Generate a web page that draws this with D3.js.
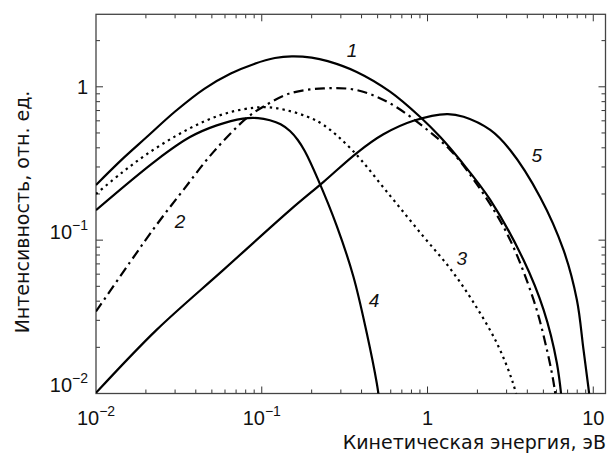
<!DOCTYPE html>
<html>
<head>
<meta charset="utf-8">
<script src="https://cdn.jsdelivr.net/npm/d3@7"></script>
<style>
  body { margin: 0; background: #fff; }
  svg { display: block; }
  text { fill: #111; }
</style>
</head>
<body>
<svg class="chart" width="608" height="457"></svg>
<script>
// energies (eV) and intensities, one pair per curve
let e1 = [0.01, 0.0143, 0.02, 0.03, 0.045, 0.065, 0.09, 0.12, 0.152, 0.2, 0.25, 0.374, 0.594, 0.90, 1.19, 1.57, 2.39, 3.79, 5.01, 6.03, 6.6];
let i1 = [0.229, 0.335, 0.465, 0.69, 0.97, 1.22, 1.41, 1.54, 1.58, 1.55, 1.47, 1.25, 0.93, 0.638, 0.472, 0.333, 0.183, 0.0744, 0.0352, 0.0158, 0.007];

let e2 = [0.01, 0.016, 0.0232, 0.0336, 0.051, 0.081, 0.102, 0.148, 0.236, 0.374, 0.594, 0.944, 1.37, 1.89, 3.01, 4.36, 5.25, 5.83, 6.1];
let i2 = [0.0343, 0.0715, 0.126, 0.212, 0.375, 0.625, 0.741, 0.906, 0.976, 0.952, 0.78, 0.549, 0.387, 0.25, 0.111, 0.0409, 0.0193, 0.0109, 0.007];

let e3 = [0.01, 0.0143, 0.02, 0.03, 0.045, 0.065, 0.09, 0.11, 0.14, 0.187, 0.236, 0.35, 0.594, 0.935, 1.36, 1.87, 2.62, 3.27, 3.6];
let i3 = [0.20, 0.275, 0.36, 0.475, 0.595, 0.685, 0.73, 0.735, 0.705, 0.64, 0.564, 0.388, 0.195, 0.107, 0.0659, 0.0401, 0.0213, 0.0118, 0.008];

let e4 = [0.01, 0.0232, 0.0369, 0.0535, 0.077, 0.095, 0.112, 0.13, 0.148, 0.165, 0.182, 0.218, 0.284, 0.357, 0.43, 0.494, 0.52];
let i4 = [0.157, 0.333, 0.47, 0.56, 0.62, 0.625, 0.605, 0.57, 0.515, 0.45, 0.38, 0.25, 0.123, 0.058, 0.0248, 0.0117, 0.008];

let e5 = [0.01, 0.0232, 0.0587, 0.148, 0.236, 0.374, 0.542, 0.822, 1.31, 1.65, 2.39, 3.15, 4.79, 6.61, 7.96, 8.73, 9.35, 9.8];
let i5 = [0.0101, 0.026, 0.064, 0.157, 0.24, 0.37, 0.49, 0.60, 0.664, 0.638, 0.523, 0.387, 0.19, 0.0864, 0.0409, 0.0193, 0.0109, 0.007];

let curveNames = ["1", "2", "3", "4", "5"];
// where each number label sits (energy, intensity at its baseline)
let labelE = [0.35, 0.0321, 1.61, 0.475, 4.57];
let labelI = [1.57, 0.120, 0.0689, 0.0367, 0.324];

let xMajor = [0.01, 0.1, 1, 10];
let xMajorExp = ["−2", "−1", "", ""];
let yMajor = [0.01, 0.1, 1];
let yMajorExp = ["−2", "−1", ""];

let xTitle = "Кинетическая энергия, эВ";
let yTitle = "Интенсивность, отн. ед.";

let svg = d3.select("body").select(".chart");
let box = { left: 96, right: 605.5, top: 14.3, bottom: 393.5 };

let x = d3.scaleLog().domain([0.01, 11.85]).range([box.left, box.right]);
let y = d3.scaleLog().domain([0.01, 2.97]).range([box.bottom, box.top]);

svg.append("defs").append("clipPath").attr("id", "plotclip")
  .append("rect")
  .attr("x", box.left).attr("y", box.top)
  .attr("width", box.right - box.left).attr("height", box.bottom - box.top);

// minor ticks
let xMinor = [];
xMajor.forEach(d => { for (let k = 2; k <= 9; k++) if (d * k <= 11.85) xMinor.push(d * k); });
let yMinor = [];
yMajor.forEach(d => { for (let k = 2; k <= 9; k++) if (d * k <= 2.97) yMinor.push(d * k); });

let ticks = svg.append("g").attr("stroke", "#333").attr("stroke-width", 1);
let drawX = (vals, len) => {
  vals.forEach(v => {
    let px = x(v);
    ticks.append("line").attr("x1", px).attr("x2", px).attr("y1", box.bottom).attr("y2", box.bottom - len);
    ticks.append("line").attr("x1", px).attr("x2", px).attr("y1", box.top).attr("y2", box.top + len);
  });
};
let drawY = (vals, len) => {
  vals.forEach(v => {
    let py = y(v);
    ticks.append("line").attr("y1", py).attr("y2", py).attr("x1", box.left).attr("x2", box.left + len);
    ticks.append("line").attr("y1", py).attr("y2", py).attr("x1", box.right).attr("x2", box.right - len);
  });
};
drawX(xMajor.filter(v => v > 0.01), 7);
drawX(xMinor, 4);
drawY(yMajor.filter(v => v > 0.01), 7);
drawY(yMinor, 4);

// frame
svg.append("rect")
  .attr("x", box.left).attr("y", box.top)
  .attr("width", box.right - box.left).attr("height", box.bottom - box.top)
  .attr("fill", "none").attr("stroke", "#444").attr("stroke-width", 1.3);

// tick labels
let labelFont = "Liberation Sans, Arial, sans-serif";
let xl = svg.append("g").attr("font-size", 20).attr("font-family", labelFont);
xMajor.forEach((v, i) => {
  let t = xl.append("text").attr("x", x(v)).attr("y", 425).attr("text-anchor", "middle");
  t.append("tspan").text(v === 1 ? "1" : "10");
  if (xMajorExp[i]) t.append("tspan").attr("dy", -9).attr("font-size", 14).text(xMajorExp[i]);
});
let yl = svg.append("g").attr("font-size", 20).attr("font-family", labelFont);
yMajor.forEach((v, i) => {
  let hasExp = yMajorExp[i] !== "";
  let t = yl.append("text").attr("x", 88).attr("text-anchor", "end")
    .attr("y", hasExp ? Math.min(y(v), box.bottom) - 1.5 : y(v) + 7.5);
  t.append("tspan").text(hasExp ? "10" : "1");
  if (hasExp) t.append("tspan").attr("dy", -9).attr("font-size", 14).text(yMajorExp[i]);
});

// curves
let line = d3.line().x(d => x(d[0])).y(d => y(d[1])).curve(d3.curveCatmullRom.alpha(0.5));
let series = [
  { e: e1, i: i1, dash: null },
  { e: e2, i: i2, dash: "10,4.5,2.4,4.5" },
  { e: e3, i: i3, dash: "2.4,4" },
  { e: e4, i: i4, dash: null },
  { e: e5, i: i5, dash: null }
];
let plot = svg.append("g").attr("clip-path", "url(#plotclip)");
series.forEach(s => {
  plot.append("path")
    .datum(d3.zip(s.e, s.i))
    .attr("d", line)
    .attr("fill", "none")
    .attr("stroke", "#000")
    .attr("stroke-width", 2.2)
    .attr("stroke-dasharray", s.dash);
});

// curve numbers
curveNames.forEach((n, k) => {
  svg.append("text")
    .attr("x", x(labelE[k])).attr("y", y(labelI[k]))
    .attr("text-anchor", "middle")
    .attr("font-family", labelFont)
    .attr("font-size", 19).attr("font-style", "italic")
    .text(n);
});

// axis titles
let titleFont = "DejaVu Sans, sans-serif";
svg.append("text")
  .attr("x", 606).attr("y", 449)
  .attr("text-anchor", "end")
  .attr("font-family", titleFont)
  .attr("font-size", 19)
  .text(xTitle);
svg.append("text")
  .attr("transform", "translate(29," + 212 + ") rotate(-90)")
  .attr("text-anchor", "middle")
  .attr("font-family", titleFont)
  .attr("font-size", 19)
  .text(yTitle);
</script>
</body>
</html>
